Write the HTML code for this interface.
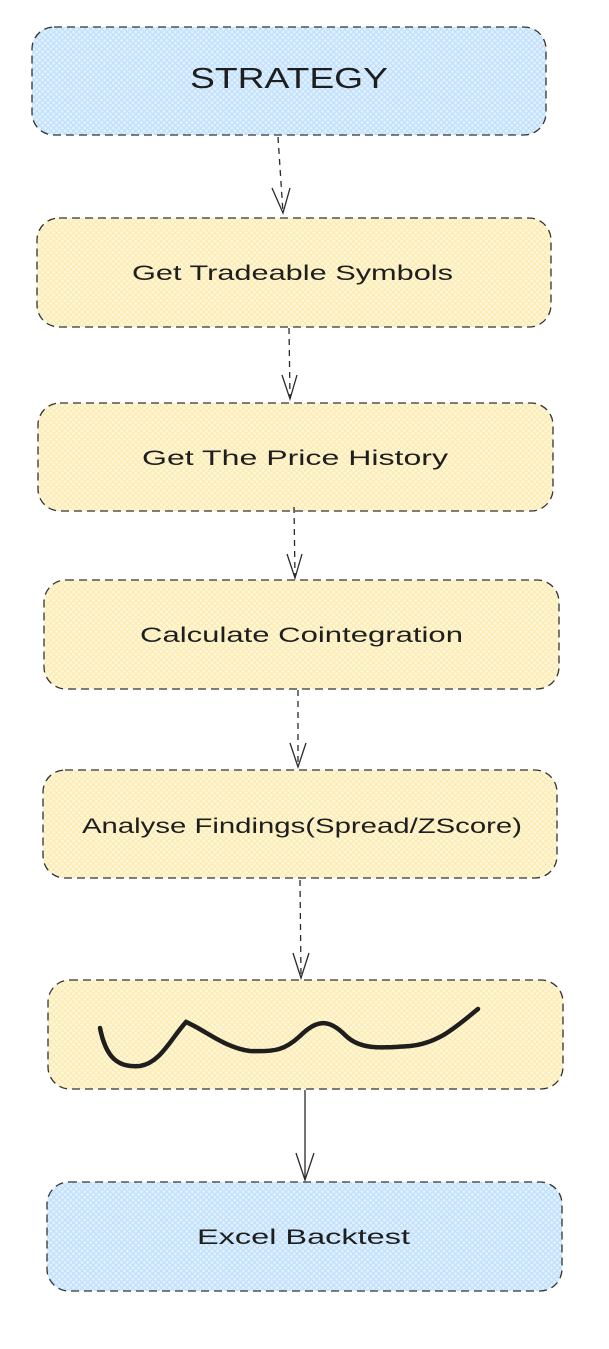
<!DOCTYPE html>
<html><head><meta charset="utf-8"><style>
html,body{margin:0;padding:0;background:#fff;width:609px;height:1349px;overflow:hidden}
text{font-family:"Liberation Sans",sans-serif;fill:#1e1e1e}
</style></head><body>
<svg width="609" height="1349" viewBox="0 0 609 1349" xmlns="http://www.w3.org/2000/svg">
<defs>
<pattern id="hb" width="4" height="4" patternUnits="userSpaceOnUse" patternTransform="rotate(45)">
<rect width="4" height="4" fill="#e2f1fe"/><rect width="1.2" height="4" fill="#bfdffb"/><rect width="4" height="1.2" fill="#bfdffb"/></pattern>
<pattern id="hy" width="4" height="4" patternUnits="userSpaceOnUse" patternTransform="rotate(45)">
<rect width="4" height="4" fill="#fef7dc"/><rect width="1.2" height="4" fill="#fcebb0"/><rect width="4" height="1.2" fill="#fcebb0"/></pattern>
</defs>
<g stroke="#333" stroke-width="1.3" stroke-dasharray="8 5">
<rect x="32" y="27" width="514" height="108" rx="22" fill="url(#hb)"/>
<rect x="37" y="218" width="514" height="109" rx="22" fill="url(#hy)"/>
<rect x="38" y="403" width="515" height="108" rx="22" fill="url(#hy)"/>
<rect x="44" y="580" width="515" height="109" rx="22" fill="url(#hy)"/>
<rect x="43" y="770" width="514" height="108" rx="22" fill="url(#hy)"/>
<rect x="48" y="980" width="515" height="109" rx="22" fill="url(#hy)"/>
<rect x="47" y="1182" width="515" height="109" rx="22" fill="url(#hb)"/>
</g>
<g stroke="#2a2a2a" stroke-width="1.3" fill="none">
<path d="M278 137 L283 213" stroke-dasharray="6 5"/><path d="M272 188 L283 213 L290 188"/>
<path d="M289 328 L290 398" stroke-dasharray="6 5"/><path d="M282 375 L290 399 L297 375"/>
<path d="M294 507 L295 577" stroke-dasharray="6 5"/><path d="M287 554 L295 578 L302 554"/>
<path d="M298 690 L298 767" stroke-dasharray="6 5"/><path d="M290 743 L298 767 L306 743"/>
<path d="M300 880 L301 977" stroke-dasharray="6 5"/><path d="M293 953 L301 978 L309 953"/>
<path d="M305 1090 L305 1180"/><path d="M296 1153 L305 1180 L314 1153"/>
</g>
<path d="M100 1028 C106 1058 118 1068 140 1066 C160 1063 170 1040 186 1022 C205 1030 225 1048 250 1051 C275 1052 285 1050 300 1036 C318 1018 330 1020 345 1035 C360 1050 380 1048 410 1046 C440 1043 458 1025 478 1009" fill="none" stroke="#1e1e1e" stroke-width="4.5" stroke-linecap="round"/>
<g lengthAdjust="spacingAndGlyphs">
<text x="190" y="88" font-size="29" textLength="198" lengthAdjust="spacingAndGlyphs">STRATEGY</text>
<text x="132" y="280" font-size="21" textLength="321" lengthAdjust="spacingAndGlyphs">Get Tradeable Symbols</text>
<text x="142" y="465" font-size="21" textLength="306" lengthAdjust="spacingAndGlyphs">Get The Price History</text>
<text x="140" y="642" font-size="21" textLength="323" lengthAdjust="spacingAndGlyphs">Calculate Cointegration</text>
<text x="82" y="833" font-size="21" textLength="440" lengthAdjust="spacingAndGlyphs">Analyse Findings(Spread/ZScore)</text>
<text x="197" y="1244" font-size="21" textLength="213" lengthAdjust="spacingAndGlyphs">Excel Backtest</text>
</g>
</svg>
</body></html>
